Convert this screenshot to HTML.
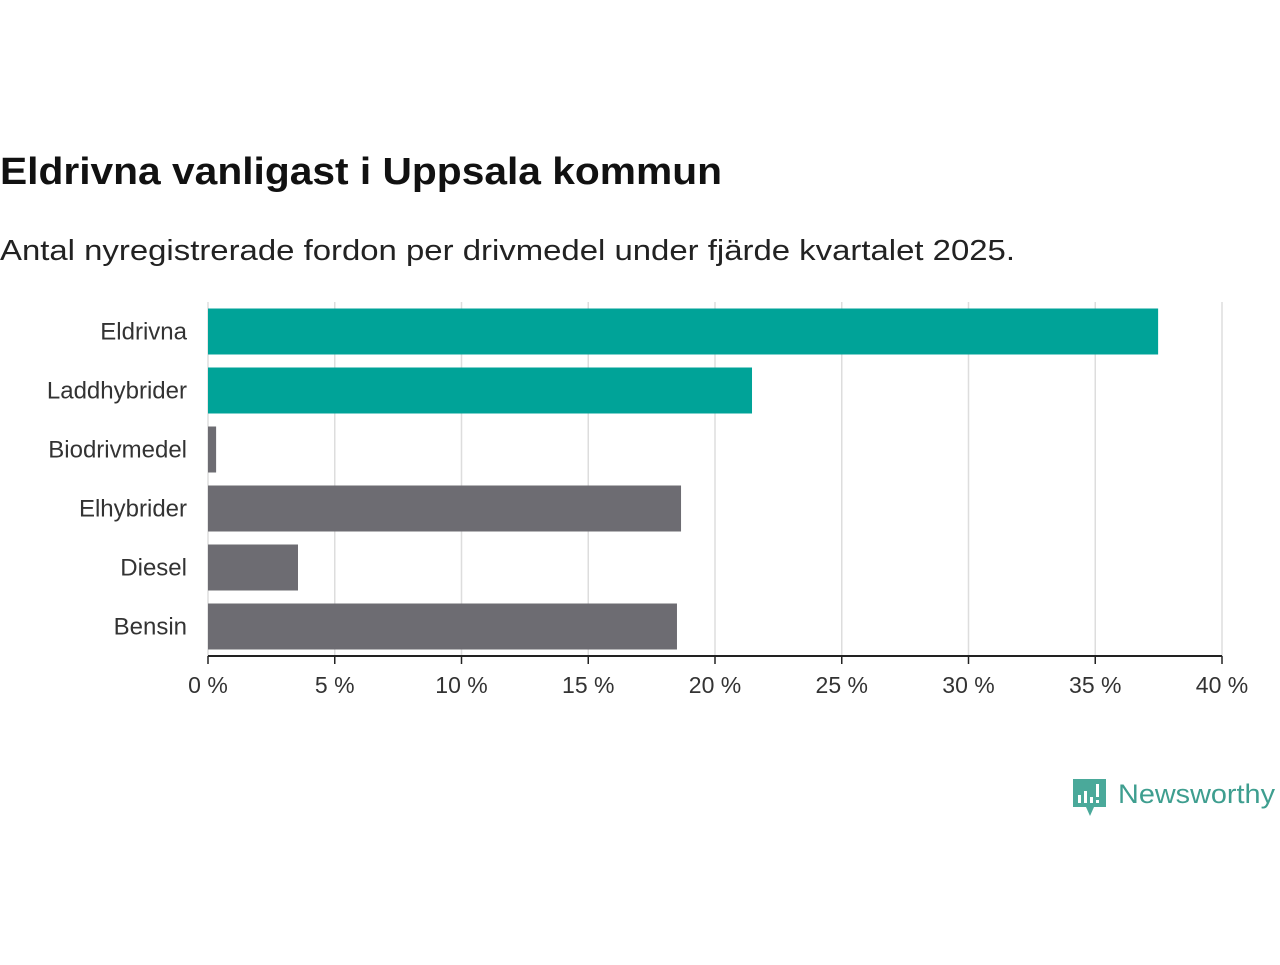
<!DOCTYPE html>
<html><head><meta charset="utf-8"><style>
body{margin:0;background:#fff;width:1280px;height:960px;overflow:hidden;font-family:"Liberation Sans","DejaVu Sans",sans-serif;}
svg text{font-family:"Liberation Sans","DejaVu Sans",sans-serif;}
</style></head><body>
<svg width="1280" height="960">
<text x="0" y="184" font-size="38" font-weight="bold" fill="#111" textLength="722" lengthAdjust="spacingAndGlyphs">Eldrivna vanligast i Uppsala kommun</text>
<text x="0" y="260" font-size="28.5" fill="#222" textLength="1015" lengthAdjust="spacingAndGlyphs">Antal nyregistrerade fordon per drivmedel under fjärde kvartalet 2025.</text>
<g id="grid"></g>
<g id="bars"></g>
<g id="ylabels"></g>
<g id="xaxis"></g>
<g>
<path d="M1073 779 h33 v28 h-12 l-4 9 l-4 -9 h-13 z" fill="#4aa99a"/>
<rect x="1078" y="795" width="3" height="8" fill="#fff"/><rect x="1084" y="791" width="3" height="12" fill="#fff"/><rect x="1090" y="797" width="3" height="6" fill="#fff"/><rect x="1096" y="784" width="3" height="13" fill="#fff"/><rect x="1096" y="800" width="3" height="3" fill="#fff"/>
<text x="1118" y="803" font-size="27" fill="#3e9e8f" textLength="157" lengthAdjust="spacingAndGlyphs">Newsworthy</text>
</g>
</svg>
<script>
const categories=["Eldrivna","Laddhybrider","Biodrivmedel","Elhybrider","Diesel","Bensin"];
const values=[37.48,21.46,0.32,18.66,3.55,18.5];
const colors=["#00a398","#00a398","#6d6c72","#6d6c72","#6d6c72","#6d6c72"];
const ticks=[0,5,10,15,20,25,30,35,40];
const tickLabels=["0 %","5 %","10 %","15 %","20 %","25 %","30 %","35 %","40 %"];
const NS="http://www.w3.org/2000/svg";
const x0=208,x1=1222,plotTop=302,plotBottom=656,band=(plotBottom-plotTop)/categories.length,bh=46;
const xs=v=>x0+(x1-x0)*v/40;
function mk(t,a,p){const e=document.createElementNS(NS,t);for(const k in a)e.setAttribute(k,a[k]);p.appendChild(e);return e;}
const g=document.getElementById('grid'),b=document.getElementById('bars'),yl=document.getElementById('ylabels'),xa=document.getElementById('xaxis');
ticks.forEach((t,i)=>{
 const l=mk('line',{x1:xs(t),x2:xs(t),y1:plotTop,y2:plotBottom,stroke:'#ddd','stroke-width':1.5},g);
 
 
 const tk=mk('line',{x1:xs(t),x2:xs(t),y1:plotBottom,y2:plotBottom+8,stroke:'#222','stroke-width':1.5},xa);
 
 
 const tx=mk('text',{x:xs(t),y:693,'font-size':23,fill:'#333','text-anchor':'middle'},xa);
 tx.textContent=tickLabels[i];
 
 
});
const al=mk('line',{x1:x0,x2:x1,y1:plotBottom,y2:plotBottom,stroke:'#222','stroke-width':2},xa);


categories.forEach((c,i)=>{
 const cy=plotTop+band*(i+0.5);
 const r=mk('rect',{x:x0,y:cy-bh/2,width:xs(values[i])-x0,height:bh,fill:colors[i]},b);
 
 
 const t=mk('text',{x:187,y:cy+8,'font-size':24,fill:'#333','text-anchor':'end'},yl);
 t.textContent=c;
 
 
});
</script>
</body></html>
